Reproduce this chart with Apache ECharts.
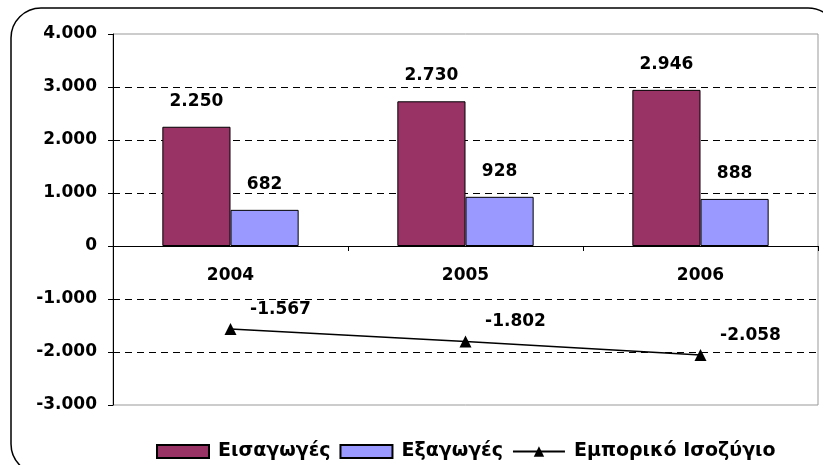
<!DOCTYPE html>
<html>
<head>
<meta charset="utf-8">
<script src="https://cdn.jsdelivr.net/npm/echarts@6/dist/echarts.min.js"></script>
<style>
  html, body { margin: 0; padding: 0; background: #fff; }
  #chart { width: 823px; height: 465px; }
</style>
</head>
<body>
<div id="chart"></div>
<script>
// data
var years = ["2004", "2005", "2006"];
var imports = [2250, 2730, 2946];
var exports = [682, 928, 888];
var balance = [-1567, -1802, -2058];
var seriesNames = ["Εισαγωγές", "Εξαγωγές", "Εμπορικό Ισοζύγιο"];

// 1234 -> "1.234"
function fmt(v) {
  var s = String(Math.abs(v)).replace(/\B(?=(\d{3})+(?!\d))/g, ".");
  return (v < 0 ? "-" : "") + s;
}

var font = "DejaVu Sans";
var myChart = echarts.init(document.getElementById("chart"));

var option = {
  animation: false,
  textStyle: { fontFamily: font },
  graphic: [
    {
      type: "rect",
      shape: { x: 11, y: 8, width: 827, height: 466, r: 30 },
      style: { fill: "none", stroke: "#000", lineWidth: 1.5 },
      silent: true
    }
  ],
  grid: {
    left: 113,
    right: 5,
    top: 34,
    bottom: 60,
    show: true,
    borderColor: "#999",
    borderWidth: 1
  },
  legend: {
    left: 151,
    top: 437,
    itemWidth: 52,
    itemHeight: 13,
    itemGap: 9,
    textStyle: {
      fontSize: 19,
      fontWeight: "bold",
      color: "#000",
      fontFamily: font,
      padding: [0, 0, 0, 4]
    },
    data: [
      { name: seriesNames[0], icon: "rect" },
      { name: seriesNames[1], icon: "rect" },
      { name: seriesNames[2] }
    ]
  },
  xAxis: {
    type: "category",
    data: years,
    position: "bottom",
    // move the axis up from the bottom edge (-3000) to the zero line
    offset: -159,
    axisLine: { onZero: false, lineStyle: { color: "#000", width: 1 } },
    axisTick: { show: true, length: 5, lineStyle: { color: "#000" } },
    axisLabel: { margin: 21, fontSize: 17, fontWeight: "bold", color: "#000" }
  },
  yAxis: {
    type: "value",
    min: -3000,
    max: 4000,
    interval: 1000,
    axisLine: { show: true, lineStyle: { color: "#000", width: 1 } },
    axisTick: { show: true, length: 5, lineStyle: { color: "#000" } },
    axisLabel: {
      margin: 16,
      fontSize: 17,
      fontWeight: "bold",
      color: "#000",
      formatter: fmt
    },
    splitLine: {
      show: true,
      lineStyle: {
        type: [7, 5],
        width: 1,
        color: ["rgba(0,0,0,0)", "#000", "#000", "#000", "#000", "#000", "#000", "rgba(0,0,0,0)"]
      }
    }
  },
  series: [
    {
      name: seriesNames[0],
      type: "bar",
      data: imports,
      barGap: "0%",
      barCategoryGap: "42%",
      itemStyle: { color: "#993366", borderColor: "#000", borderWidth: 1 },
      label: {
        show: true,
        position: "top",
        distance: 17,
        fontSize: 17,
        fontWeight: "bold",
        color: "#000",
        formatter: function (p) { return fmt(p.value); }
      }
    },
    {
      name: seriesNames[1],
      type: "bar",
      data: exports,
      itemStyle: { color: "#9999FF", borderColor: "#000", borderWidth: 1 },
      label: {
        show: true,
        position: "top",
        distance: 17,
        fontSize: 17,
        fontWeight: "bold",
        color: "#000",
        formatter: function (p) { return fmt(p.value); }
      }
    },
    {
      name: seriesNames[2],
      type: "line",
      data: balance,
      symbol: "triangle",
      symbolSize: 12,
      z: 5,
      itemStyle: { color: "#000" },
      lineStyle: { color: "#000", width: 1.5 },
      label: {
        show: true,
        position: "top",
        distance: 5,
        offset: [50, 0],
        fontSize: 17,
        fontWeight: "bold",
        color: "#000",
        formatter: function (p) { return fmt(p.value); }
      }
    }
  ]
};

myChart.setOption(option);
</script>
</body>
</html>
